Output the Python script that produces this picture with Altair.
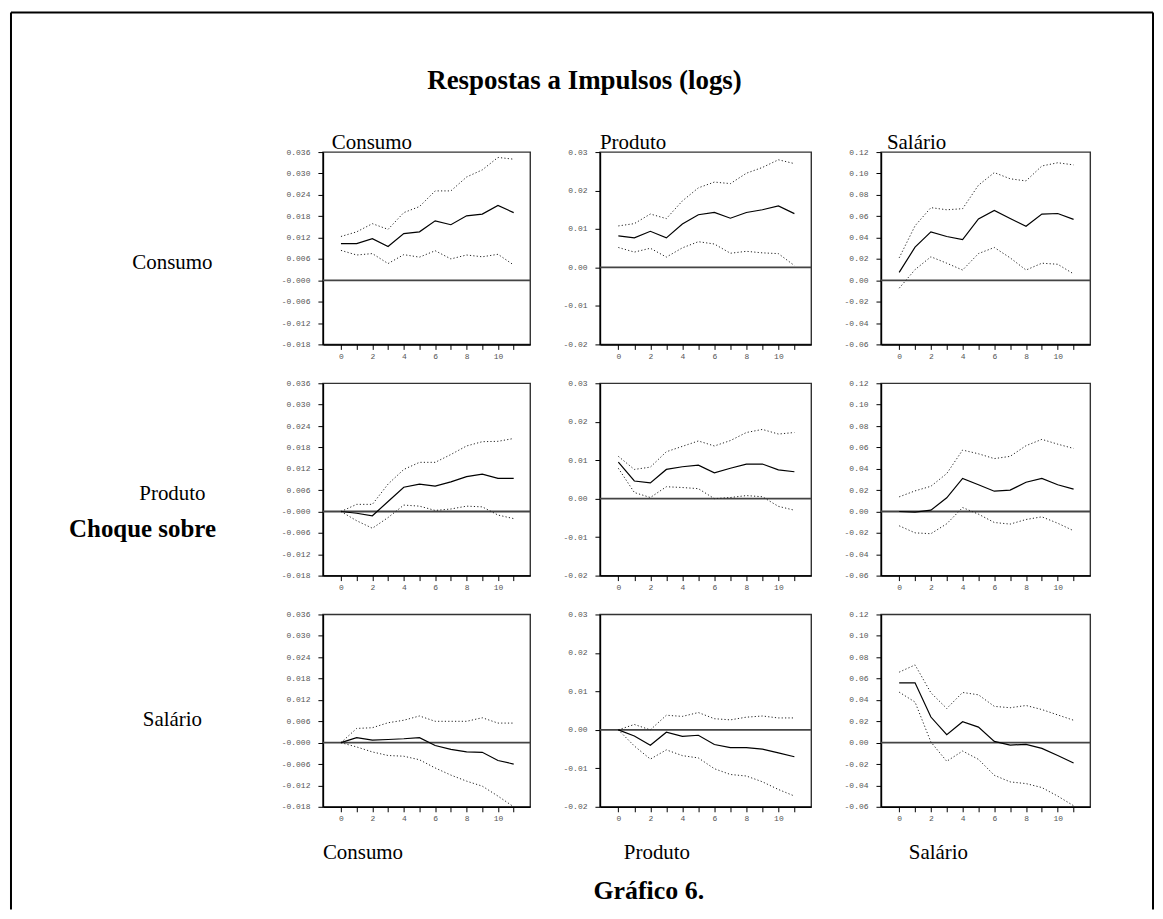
import altair as alt
import pandas as pd

SERIF = "Liberation Serif"
MONO = "Liberation Mono"

periods = list(range(12))

# ---- shock: Consumo ----
cc_mid = [0.0103, 0.0103, 0.0117, 0.0095, 0.0131, 0.0136, 0.0167, 0.0156, 0.0181, 0.0186, 0.0210, 0.0190]
cc_hi = [0.0123, 0.0136, 0.0159, 0.0143, 0.0190, 0.0207, 0.0251, 0.0251, 0.0290, 0.0310, 0.0345, 0.0340]
cc_lo = [0.0084, 0.0071, 0.0075, 0.0047, 0.0072, 0.0065, 0.0083, 0.0060, 0.0071, 0.0066, 0.0073, 0.0043]

cp_mid = [0.0082, 0.0077, 0.0094, 0.0077, 0.0113, 0.0137, 0.0143, 0.0128, 0.0143, 0.0150, 0.0160, 0.0140]
cp_hi = [0.0108, 0.0114, 0.0139, 0.0127, 0.0173, 0.0207, 0.0222, 0.0218, 0.0245, 0.0260, 0.0280, 0.0270]
cp_lo = [0.0052, 0.0040, 0.0050, 0.0027, 0.0051, 0.0067, 0.0061, 0.0037, 0.0042, 0.0038, 0.0036, 0.0005]

cs_mid = [0.0074, 0.0310, 0.0453, 0.0410, 0.0380, 0.0574, 0.0654, 0.0578, 0.0505, 0.0620, 0.0625, 0.0570]
cs_hi = [0.0210, 0.0510, 0.0680, 0.0660, 0.0670, 0.0890, 0.1008, 0.0950, 0.0930, 0.1070, 0.1100, 0.1080]
cs_lo = [-0.0074, 0.0100, 0.0220, 0.0160, 0.0096, 0.0250, 0.0307, 0.0210, 0.0096, 0.0160, 0.0150, 0.0060]

# ---- shock: Produto ----
pc_mid = [0.0000, -0.0005, -0.0012, 0.0028, 0.0068, 0.0077, 0.0071, 0.0083, 0.0098, 0.0105, 0.0093, 0.0093]
pc_hi = [0.0000, 0.0020, 0.0020, 0.0077, 0.0118, 0.0138, 0.0138, 0.0160, 0.0184, 0.0196, 0.0197, 0.0205]
pc_lo = [0.0000, -0.0026, -0.0047, -0.0017, 0.0018, 0.0015, 0.0003, 0.0007, 0.0015, 0.0013, -0.0010, -0.0020]

pp_mid = [0.0095, 0.0046, 0.0041, 0.0076, 0.0083, 0.0087, 0.0067, 0.0079, 0.0090, 0.0090, 0.0075, 0.0070]
pp_hi = [0.0110, 0.0076, 0.0082, 0.0122, 0.0136, 0.0150, 0.0137, 0.0151, 0.0172, 0.0180, 0.0168, 0.0172]
pp_lo = [0.0079, 0.0016, 0.0003, 0.0031, 0.0029, 0.0026, 0.0000, 0.0003, 0.0008, 0.0005, -0.0020, -0.0030]

ps_mid = [0.0000, -0.0006, 0.0012, 0.0128, 0.0310, 0.0250, 0.0190, 0.0200, 0.0274, 0.0310, 0.0250, 0.0210]
ps_hi = [0.0137, 0.0193, 0.0236, 0.0355, 0.0575, 0.0540, 0.0495, 0.0516, 0.0616, 0.0675, 0.0630, 0.0590]
ps_lo = [-0.0134, -0.0200, -0.0208, -0.0115, 0.0037, -0.0025, -0.0103, -0.0118, -0.0075, -0.0050, -0.0110, -0.0180]

# ---- shock: Salário ----
sc_mid = [0.0000, 0.0014, 0.0007, 0.0009, 0.0011, 0.0014, -0.0008, -0.0019, -0.0026, -0.0027, -0.0050, -0.0060]
sc_hi = [0.0000, 0.0040, 0.0042, 0.0056, 0.0063, 0.0075, 0.0060, 0.0060, 0.0060, 0.0070, 0.0055, 0.0055]
sc_lo = [0.0000, -0.0012, -0.0026, -0.0036, -0.0038, -0.0048, -0.0071, -0.0091, -0.0108, -0.0122, -0.0150, -0.0180]

sp_mid = [0.0000, -0.0016, -0.0040, -0.0006, -0.0017, -0.0014, -0.0038, -0.0046, -0.0046, -0.0050, -0.0060, -0.0070]
sp_hi = [0.0000, 0.0014, 0.0000, 0.0038, 0.0035, 0.0045, 0.0029, 0.0026, 0.0033, 0.0036, 0.0031, 0.0031]
sp_lo = [0.0000, -0.0042, -0.0076, -0.0052, -0.0067, -0.0073, -0.0101, -0.0116, -0.0120, -0.0135, -0.0155, -0.0172]

ss_mid = [0.0560, 0.0560, 0.0240, 0.0075, 0.0196, 0.0146, 0.0012, -0.0022, -0.0016, -0.0053, -0.0120, -0.0190]
ss_hi = [0.0660, 0.0728, 0.0467, 0.0320, 0.0470, 0.0448, 0.0340, 0.0327, 0.0348, 0.0310, 0.0260, 0.0210]
ss_lo = [0.0473, 0.0380, 0.0006, -0.0174, -0.0078, -0.0156, -0.0305, -0.0367, -0.0383, -0.0420, -0.0500, -0.0590]

variables = ["Consumo", "Produto", "Salário"]

y_domains = {
    "Consumo": [-0.018, 0.036],
    "Produto": [-0.02, 0.03],
    "Salário": [-0.06, 0.12],
}
y_ticks = {
    "Consumo": [-0.018, -0.012, -0.006, 0.0, 0.006, 0.012, 0.018, 0.024, 0.030, 0.036],
    "Produto": [-0.02, -0.01, 0.0, 0.01, 0.02, 0.03],
    "Salário": [-0.06, -0.04, -0.02, 0.0, 0.02, 0.04, 0.06, 0.08, 0.10, 0.12],
}
y_label_expr = {
    "Consumo": "abs(datum.value) < 1e-9 ? '-0.000' : replace(format(datum.value, '.3f'), '\u2212', '-')",
    "Produto": "replace(format(datum.value, '.2f'), '\u2212', '-')",
    "Salário": "replace(format(datum.value, '.2f'), '\u2212', '-')",
}

irf = {
    ("Consumo", "Consumo"): (cc_lo, cc_mid, cc_hi),
    ("Consumo", "Produto"): (cp_lo, cp_mid, cp_hi),
    ("Consumo", "Salário"): (cs_lo, cs_mid, cs_hi),
    ("Produto", "Consumo"): (pc_lo, pc_mid, pc_hi),
    ("Produto", "Produto"): (pp_lo, pp_mid, pp_hi),
    ("Produto", "Salário"): (ps_lo, ps_mid, ps_hi),
    ("Salário", "Consumo"): (sc_lo, sc_mid, sc_hi),
    ("Salário", "Produto"): (sp_lo, sp_mid, sp_hi),
    ("Salário", "Salário"): (ss_lo, ss_mid, ss_hi),
}

PANEL_H = 193
PANEL_W = {"Consumo": 208, "Produto": 212, "Salário": 210}
LEFT_W = 245
HEAD_H = 103
X_DOMAIN = [-1.15, 12.05]


def panel(shock, resp):
    lo, mid, hi = irf[(shock, resp)]
    x_enc = alt.X(
        "h:Q",
        scale=alt.Scale(domain=X_DOMAIN, nice=False, zero=False),
        axis=alt.Axis(values=periods, title=None,
                      labelExpr="datum.value % 2 === 0 ? datum.label : ''",
                      labelPadding=3),
    )
    y_scale = alt.Scale(domain=y_domains[resp], nice=False, zero=False)
    y_axis = alt.Axis(values=y_ticks[resp], title=None,
                      labelExpr=y_label_expr[resp], labelPadding=8)
    mid_df = pd.DataFrame({"h": periods, "v": mid})
    band_df = pd.DataFrame({"h": periods + periods, "v": lo + hi,
                            "s": ["inferior"] * 12 + ["superior"] * 12})
    zero_df = pd.DataFrame({"v": [0.0]})
    zero = alt.Chart(zero_df).mark_rule(color="#444", strokeWidth=1.8).encode(
        y=alt.Y("v:Q", scale=y_scale, axis=y_axis))
    band = alt.Chart(band_df).mark_line(color="#222", strokeWidth=1, strokeDash=[1.2, 2.2]).encode(
        x=x_enc, y=alt.Y("v:Q", scale=y_scale, axis=y_axis), detail="s:N")
    line = alt.Chart(mid_df).mark_line(color="black", strokeWidth=1.2).encode(
        x=x_enc, y=alt.Y("v:Q", scale=y_scale, axis=y_axis))
    return alt.layer(zero, band, line).properties(
        width=PANEL_W[resp], height=PANEL_H,
        view=alt.ViewBackground(stroke="#333", strokeWidth=1.4))


one = pd.DataFrame({"k": [0]})


def text_mark(label, x, y, size, weight="normal", align="left"):
    return alt.Chart(one).mark_text(
        text=label, font=SERIF, fontSize=size, fontWeight=weight,
        align=align, baseline="alphabetic", color="black",
    ).encode(x=alt.value(x), y=alt.value(y))


def blank(w, h):
    return alt.Chart(one).mark_text(text="", fontSize=1).encode(
        x=alt.value(w / 2), y=alt.value(h / 2)).properties(width=w, height=h)


FRAME_BOTTOM = 902
FRAME_RIGHT = 1148
overlay_marks = [
    alt.Chart(one).mark_rule(color="black", strokeWidth=2).encode(
        x=alt.value(2), y=alt.value(2), y2=alt.value(FRAME_BOTTOM)),
    alt.Chart(one).mark_rule(color="black", strokeWidth=2).encode(
        x=alt.value(2), x2=alt.value(FRAME_RIGHT), y=alt.value(2)),
    alt.Chart(one).mark_rule(color="black", strokeWidth=2).encode(
        x=alt.value(FRAME_RIGHT), y=alt.value(2), y2=alt.value(FRAME_BOTTOM)),
    text_mark("Respostas a Impulsos (logs)", 577.5, 79, 27, "bold", "center"),
    text_mark("Consumo", 324, 139, 21),
    text_mark("Produto", 593, 139, 21),
    text_mark("Salário", 881, 139, 21),
    text_mark("Consumo", 164, 259, 21, align="center"),
    text_mark("Produto", 164, 491, 21, align="center"),
    text_mark("Salário", 164, 718, 21, align="center"),
    text_mark("Choque sobre", 134, 528, 25, "bold", "center"),
    text_mark("Consumo", 315, 851, 21),
    text_mark("Produto", 617, 851, 21),
    text_mark("Salário", 903, 851, 21),
    text_mark("Gráfico 6.", 642, 892, 26, "bold", "center"),
]
overlay = alt.layer(*overlay_marks).properties(width=LEFT_W, height=HEAD_H)

cells = [overlay] + [blank(PANEL_W[r], HEAD_H) for r in variables]
for shock in variables:
    cells.append(blank(LEFT_W, PANEL_H))
    for resp in variables:
        cells.append(panel(shock, resp))

chart = alt.concat(*cells, columns=4, spacing={"row": 39, "column": 70}, bounds="flush").properties(
    padding=0
).configure_view(stroke="transparent").configure_axis(
    labelFont=MONO, labelFontSize=8, labelColor="#555",
    domainColor="black", domainWidth=1.5,
    tickColor="black", tickWidth=1, tickSize=5,
    grid=False, labelOverlap=False, labelFlush=False,
)

chart.save("out.html", embed_options={"renderer": "svg", "actions": False})
